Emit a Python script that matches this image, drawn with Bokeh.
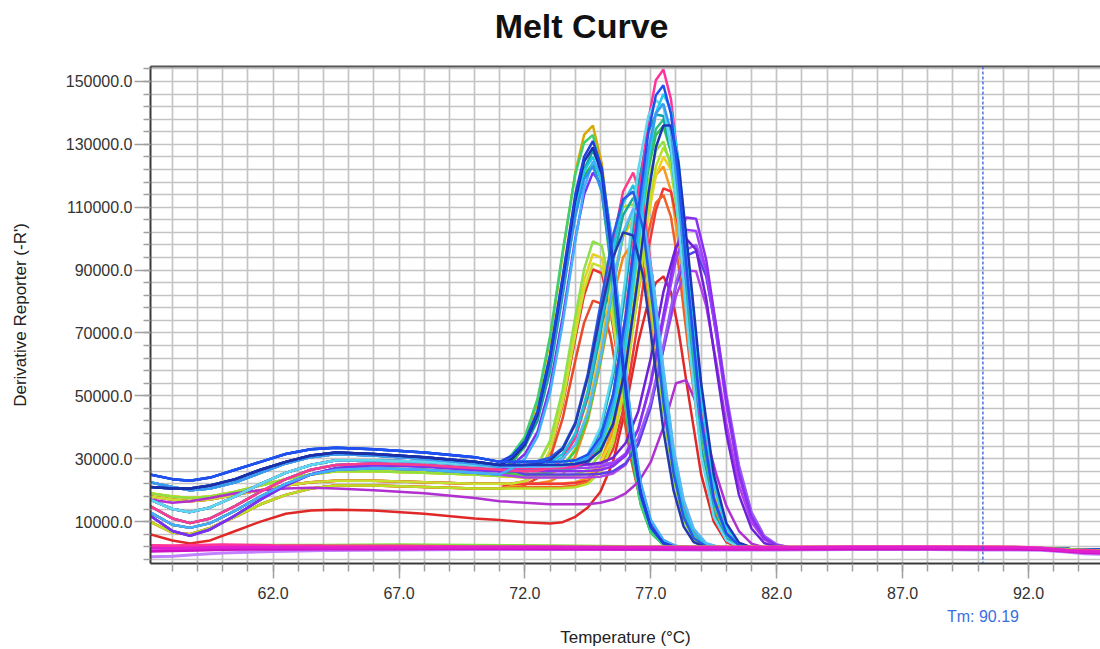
from bokeh.plotting import figure
from bokeh.models import (FixedTicker, Span, Range1d, NumeralTickFormatter,
                          LinearAxis, CustomJSTickFormatter)
from bokeh.embed import file_html
from bokeh.resources import INLINE

# ---------------- data (values in thousands of derivative units) ----------------
T_BASE = [57.1, 58.0, 58.7, 59.5, 60.5, 61.5, 62.5, 63.5, 64.5, 66.0, 68.0, 70.0, 71.0]

BL1 = [25, 23.5, 23, 24, 26.5, 29, 31.5, 33, 33.5, 33, 32, 30.5, 29]
BL2 = [21, 20.5, 20.5, 21.5, 23.5, 26.5, 29, 31, 32, 31.5, 30.5, 29, 28]
BL3 = [15, 11, 9.5, 11, 15, 19.5, 23.5, 26.5, 28, 28.5, 28, 27, 26.5]
BL4 = [12, 7, 5.5, 7.5, 12, 17, 21.5, 25, 27, 28, 27.5, 26.5, 26]
BL5 = [18, 17, 16.5, 17, 18.5, 20, 21.5, 22.5, 23, 23, 22.5, 22, 22]
BL6 = [6, 4, 3, 4, 7, 10, 12.5, 13.5, 13.8, 13.5, 12.5, 11, 10.5]
BL7 = [17, 16, 16.5, 17.5, 19, 20, 20.5, 20.8, 20.5, 20, 19, 17.5, 16.5]
BL8 = [19, 18, 17.5, 18, 19.5, 21.5, 23.5, 25, 26, 26, 25.5, 25, 24.5]
BL9 = [17, 14, 13, 14.5, 18, 22, 25.5, 28, 29.5, 29.5, 29, 28, 27.5]
BL10 = [13, 9, 8, 9.5, 13.5, 18, 22, 25, 26.5, 27, 26.5, 25.5, 25]
BL11 = [22.5, 21, 20, 20.5, 22.5, 25.5, 28.5, 30.5, 31.5, 31, 30, 28.5, 27.5]
BL12 = [10, 6.5, 6, 8, 11.5, 15.5, 18.5, 20.5, 21.5, 21.5, 21, 20.5, 20.5]

# peak group near 74.7 C
T_A = [71.5, 72, 72.5, 73, 73.5, 74, 74.35, 74.7, 75.05, 75.4, 75.8, 76.2, 76.6, 77, 77.5, 78, 79, 85, 92, 94.9]
A1 = [31, 36, 48, 68, 95, 121, 133, 136, 124, 100, 66, 37, 17.5, 7.5, 3, 1.8, 1.5, 1.5, 1.4, 1.0]
A2 = [31, 35.5, 45, 63, 88, 114, 126, 131, 122.5, 100, 67.5, 39, 19, 8.4, 3.2, 1.8, 1.5, 1.5, 1.4, 1.0]
A3 = [30.5, 34, 42, 58, 82, 108, 122, 128, 122, 102, 71, 42, 21, 9.5, 3.8, 2, 1.5, 1.5, 1.4, 1.0]
A4 = [31, 35, 44.5, 61.5, 85, 109.5, 121.5, 126, 118, 96, 65, 37.5, 18.3, 8, 3.1, 1.8, 1.5, 1.5, 1.4, 1.0]
A5 = [29, 34, 45, 63, 87, 110, 120, 124, 115, 92, 60, 33, 15.5, 6.5, 2.6, 1.7, 1.5, 1.5, 1.4, 1.0]
A6 = [30, 34.5, 44, 62, 86.5, 112, 124.5, 129, 120.5, 98.5, 66.5, 38.5, 18.7, 8.3, 3.2, 1.8, 1.5, 1.5, 1.4, 1.0]
A7 = [28, 31.5, 38.5, 53, 75, 100, 114, 121, 117, 100, 71, 43, 22, 10, 4, 2.2, 1.5, 1.5, 1.4, 1.0]
A8 = [31, 35, 44, 60.5, 83.5, 107, 119, 123, 115, 94, 63.5, 36.7, 17.9, 7.9, 3.1, 1.7, 1.5, 1.5, 1.4, 1.0]
A9 = [31.5, 37, 49, 69, 96, 120.5, 130.5, 133, 121, 96, 62, 34, 15.5, 6.5, 2.7, 1.7, 1.5, 1.5, 1.4, 1.0]
A10 = [27, 30, 37, 51, 73, 99, 116, 124.5, 121, 103, 73, 44, 22.5, 10.5, 4.2, 2.2, 1.5, 1.5, 1.4, 1.0]
F1 = [24.7, 25.3, 28.0, 35.8, 52.0, 75.1, 90.2, 99.1, 97.8, 84.8, 61.3, 37.4, 19.5, 9.1, 3.5, 1.9, 1.5, 1.5, 1.4, 1.0]
F2 = [24.6, 25.3, 27.9, 35.2, 50.5, 72.4, 86.7, 95.1, 93.9, 81.4, 58.9, 35.9, 18.8, 8.8, 3.4, 1.9, 1.5, 1.5, 1.4, 1.0]
F3 = [22.1, 22.8, 25.3, 32.7, 47.8, 69.6, 83.8, 92.1, 91, 78.9, 57, 34.8, 18.2, 8.5, 3.3, 1.9, 1.5, 1.5, 1.4, 1.0]
F4 = [22.1, 22.8, 25.2, 32.4, 47.1, 68.2, 82, 90.2, 89, 77.2, 55.8, 34.1, 17.9, 8.4, 3.3, 1.9, 1.5, 1.5, 1.4, 1.0]
F5 = [21.1, 21.7, 23.8, 30, 42.8, 61.2, 73.2, 80.3, 79.3, 68.8, 49.8, 30.4, 16, 7.6, 3.1, 1.8, 1.5, 1.5, 1.4, 1.0]

# peak group near 76.3 C
T_B = [72, 72.5, 73, 73.5, 74, 74.5, 75, 75.5, 75.9, 76.3, 76.7, 77.1, 77.5, 77.9, 78.3, 78.7, 79.2, 79.8, 80.5, 85, 92, 94.9]
B1 = [26, 26.2, 27, 29.7, 36.6, 50.9, 73.2, 99, 115, 121, 110.8, 85.2, 55.3, 30.4, 14.5, 6.4, 2.6, 1.6, 1.5, 1.5, 1.4, 1.0]
B2 = [28, 28.2, 29, 31.5, 38, 51.3, 72.2, 96.4, 111.3, 117, 107.2, 82.4, 53.5, 29.5, 14.1, 6.2, 2.6, 1.6, 1.5, 1.5, 1.4, 1.0]
B3 = [29, 29.3, 30.3, 33.5, 41.5, 57, 79, 101, 112.5, 115, 103, 77, 48, 25.5, 11.5, 4.8, 2.1, 1.6, 1.5, 1.5, 1.4, 1.0]
B4 = [27, 27.2, 27.9, 30.4, 36.6, 49.5, 69.7, 93, 107.5, 113, 103.5, 79.6, 51.7, 28.5, 13.7, 6.1, 2.6, 1.6, 1.5, 1.5, 1.4, 1.0]
B5 = [25, 25.1, 25.6, 27.5, 32.5, 43, 61, 84, 101, 109, 106, 86, 58, 33, 16.5, 7.5, 3, 1.7, 1.5, 1.5, 1.4, 1.0]
B6 = [24, 24.2, 24.9, 27.2, 33.2, 45.5, 64.8, 87, 100.8, 106, 97.1, 74.7, 48.5, 26.8, 12.9, 5.8, 2.5, 1.6, 1.5, 1.5, 1.4, 1.0]
B7 = [28, 28.3, 29.5, 33, 41, 56, 76, 94, 102, 101, 88, 64, 39, 20, 8.5, 3.5, 1.8, 1.5, 1.5, 1.5, 1.4, 1.0]
B8 = [22, 22.2, 22.8, 25, 30.6, 42.2, 60.3, 81.1, 94.1, 99, 90.7, 69.8, 45.4, 25.1, 12.1, 5.5, 2.4, 1.6, 1.5, 1.5, 1.4, 1.0]
B9 = [27.5, 27.6, 28.1, 30, 34.5, 44.5, 62, 85, 102, 109.5, 106, 86, 58.5, 33.5, 17, 7.8, 3.1, 1.7, 1.5, 1.5, 1.4, 1.0]
B10 = [25, 25.3, 26.3, 29.5, 37, 52, 74.5, 98, 110, 111, 98.5, 72.5, 45, 23.5, 10.5, 4.4, 2, 1.6, 1.5, 1.5, 1.4, 1.0]

# peak group near 77.5 C
T_C = [72, 73, 73.5, 74, 74.5, 75, 75.5, 76, 76.5, 76.9, 77.2, 77.5, 77.8, 78.1, 78.5, 79, 79.5, 80, 80.5, 81, 81.5, 82.2, 85, 92, 94.9]
C1 = [27, 27, 27.1, 27.6, 29.4, 35.4, 49.6, 75.9, 111.3, 137.7, 150.4, 153.8, 144.4, 123.5, 86.4, 44, 17.8, 6.3, 2.6, 1.7, 1.5, 1.5, 1.5, 1.4, 1.0]
C2 = [29, 29, 29.1, 29.5, 31.3, 36.9, 50.4, 75.2, 108.7, 133.6, 145.6, 148.8, 139.7, 119.5, 83.7, 42.7, 17.3, 6.2, 2.5, 1.7, 1.5, 1.5, 1.5, 1.4, 1.0]
C3 = [29, 29, 29.1, 29.4, 30.5, 34.5, 45, 66, 98, 125, 140, 146, 141, 125, 91, 50, 22, 8, 3, 1.8, 1.5, 1.5, 1.5, 1.4, 1.0]
C4 = [28, 28, 28.1, 28.5, 30.2, 35.6, 48.5, 72.3, 104.4, 128.3, 139.8, 142.9, 134.1, 114.7, 80.3, 41, 16.6, 6, 2.5, 1.7, 1.5, 1.5, 1.5, 1.4, 1.0]
C5 = [27, 27, 27.2, 28, 31, 39, 56, 84, 117, 134, 139.5, 139, 128, 106, 70, 33, 12.5, 4.5, 2, 1.6, 1.5, 1.5, 1.5, 1.4, 1.0]
C6 = [26.5, 26.5, 26.6, 27, 28.6, 33.7, 46, 68.7, 99.2, 122, 132.9, 135.9, 127.5, 109.1, 76.4, 39, 15.9, 5.8, 2.5, 1.7, 1.5, 1.5, 1.5, 1.4, 1.0]
C7 = [28, 28, 28, 28.3, 29.2, 32.5, 41, 59, 88, 114, 129, 136, 136, 124, 94, 54, 25, 9.5, 3.3, 1.8, 1.5, 1.5, 1.5, 1.4, 1.0]
C8 = [24.5, 24.5, 24.6, 25, 26.5, 31.5, 43.5, 65.5, 95.2, 117.4, 128, 130.9, 122.8, 105.1, 73.6, 37.6, 15.4, 5.6, 2.4, 1.7, 1.5, 1.5, 1.5, 1.4, 1.0]
C9 = [24, 24, 24.1, 24.4, 25.3, 28.6, 37, 54.5, 83, 107, 120, 126, 122, 108, 79, 43.5, 19, 7, 2.7, 1.7, 1.5, 1.5, 1.5, 1.4, 1.0]
C10 = [22, 22, 22.1, 22.5, 23.9, 28.7, 40, 60.9, 89.1, 110.1, 120.2, 122.9, 115.3, 98.7, 69.2, 35.4, 14.5, 5.3, 2.4, 1.6, 1.5, 1.5, 1.5, 1.4, 1.0]
C11 = [22, 22, 22, 22.3, 23, 25.7, 33, 48.5, 74, 96.5, 109, 116, 115, 104, 79, 45.5, 21, 8, 3, 1.8, 1.5, 1.5, 1.5, 1.4, 1.0]
C12 = [21, 21, 21.1, 21.4, 22.8, 27.1, 37.6, 56.8, 82.8, 102.1, 111.4, 113.9, 106.9, 91.5, 64.2, 32.9, 13.5, 5.1, 2.3, 1.6, 1.5, 1.5, 1.5, 1.4, 1.0]
C13 = [9.8, 9.4, 9.8, 11.5, 14.5, 19.5, 29, 46, 67, 80, 86, 88, 83, 71, 50, 25, 10, 3.5, 1.8, 1.5, 1.5, 1.5, 1.5, 1.4, 1.0]
C14 = [27.5, 27.5, 27.7, 28.5, 31.5, 40, 58, 88, 122, 139, 144, 142, 129, 105, 68, 31, 11.5, 4, 1.9, 1.6, 1.5, 1.5, 1.5, 1.4, 1.0]
C15 = [27.5, 27.5, 27.6, 28, 29.6, 34.8, 47.2, 70, 100.9, 123.9, 134.9, 137.9, 129.4, 110.7, 77.5, 39.6, 16.1, 5.8, 2.5, 1.7, 1.5, 1.5, 1.5, 1.4, 1.0]
C16 = [20.5, 20.5, 20.6, 20.9, 22, 25.8, 35, 54, 84, 109.5, 123, 129, 125, 111, 81, 44.5, 19.5, 7.2, 2.8, 1.7, 1.5, 1.5, 1.5, 1.4, 1.0]

# peak group near 78.5 C
T_D = [72, 73, 74, 74.5, 75, 75.5, 76, 76.5, 77, 77.5, 78, 78.4, 78.8, 79.2, 79.6, 80, 80.5, 81, 81.5, 82, 82.6, 85, 92, 94.9]
D1 = [26, 26, 26, 26.1, 26.4, 27.6, 31, 39.3, 54.5, 75.8, 96.7, 106.7, 106.3, 93.3, 71.9, 48.9, 25.5, 11.4, 4.8, 2.4, 1.6, 1.5, 1.4, 1.0]
D2 = [27, 27, 27, 27.1, 27.4, 28.5, 31.7, 39.5, 53.7, 73.7, 93.4, 102.8, 102.4, 89.9, 69.3, 47.1, 24.6, 11, 4.7, 2.4, 1.6, 1.5, 1.4, 1.0]
D3 = [28, 28, 28, 28.2, 28.7, 30.3, 35, 45, 62, 83, 97.5, 100, 96.5, 81, 59, 38, 18.5, 7.8, 3.2, 1.9, 1.5, 1.5, 1.4, 1.0]
D4 = [25, 25, 25, 25, 25.2, 26, 28.5, 34.5, 46.5, 65, 85, 94.5, 96, 88, 70, 49, 27, 12.5, 5.3, 2.6, 1.7, 1.5, 1.4, 1.0]
D5 = [24, 24, 24, 24.1, 24.3, 25.3, 28.1, 34.9, 47.2, 64.7, 81.8, 89.9, 89.6, 78.6, 60.7, 41.3, 21.6, 9.8, 4.3, 2.3, 1.6, 1.5, 1.4, 1.0]
D6 = [16, 15.5, 15.5, 15.5, 16, 17, 19, 22.5, 29, 40, 54, 55, 48, 37, 25, 15, 7, 3, 1.8, 1.5, 1.5, 1.5, 1.4, 1.0]
D7 = [28, 28, 28, 28, 28.2, 28.8, 31, 36.5, 48, 66, 86, 96.5, 98, 90, 72, 50.5, 28, 13, 5.5, 2.7, 1.7, 1.5, 1.4, 1.0]

# flat (no amplification) wells
T_FLAT = [57.1, 58, 59, 60, 62, 64, 67, 70, 73, 76, 79, 82, 85, 88, 90, 91.5, 92.5, 93.5, 94.2, 94.9]
N1 = [1.5, 1.4, 1.6, 1.8, 1.8, 1.7, 1.7, 1.8, 1.8, 1.7, 1.7, 1.7, 1.8, 1.8, 1.7, 1.7, 1.5, 0.8, 0.5, 0.4]
N2 = [2.4, 2.3, 2.5, 2.6, 2.4, 2.3, 2.2, 2.0, 2.0, 1.9, 1.9, 1.9, 2.0, 2.0, 2.0, 1.9, 1.6, 1.0, 0.9, 0.6]
N3 = [0.6, 0.7, 0.9, 1.1, 1.2, 1.3, 1.3, 1.4, 1.3, 1.2, 1.2, 1.2, 1.3, 1.3, 1.2, 1.2, 1.1, 0.6, 0.2, 0.0]
N4 = [-1.2, -1.0, -0.5, 0.0, 0.5, 0.8, 1.0, 1.1, 1.1, 1.1, 1.0, 1.0, 1.1, 1.1, 1.0, 1.0, 0.9, 0.3, -0.2, -0.4]
N5 = [2.0, 1.9, 2.0, 2.1, 2.0, 1.9, 1.9, 1.7, 1.6, 1.6, 1.6, 1.6, 1.7, 1.6, 1.6, 1.5, 1.3, 0.7, 0.6, 0.2]
N6 = [2.2, 2.1, 2.3, 2.4, 2.5, 2.5, 2.6, 2.5, 2.3, 2.1, 2.0, 1.9, 1.9, 1.9, 1.9, 1.8, 1.5, 1.2, 1.0, 0.8]

X_MAJOR = [62, 67, 72, 77, 82, 87, 92]
X_MINOR = list(range(58, 95))
Y_MAJOR = [10000, 30000, 50000, 70000, 90000, 110000, 130000, 150000]
Y_MINOR = list(range(-2000, 154001, 4000))
X_START, X_END = 57.13, 94.86
Y_START, Y_END = -3333, 154762
TM = 90.19
TITLE = "Melt Curve"
TITLE_X = 74.25   # horizontal centre of the title, in axis units

# (baseline, temperatures, peak values, colour) in drawing order
SERIES = [
    (BL6, T_C, C13, "#e02828"),
    (BL5, T_A, F5, "#e84a2a"),
    (BL12, T_A, F4, "#f03030"),
    (BL5, T_B, B8, "#f08a20"),
    (BL12, T_C, C10, "#f59a20"),
    (BL5, T_C, C11, "#f03838"),
    (BL12, T_C, C12, "#f06028"),
    (BL8, T_A, F2, "#e8d020"),
    (BL5, T_A, F3, "#c8e030"),
    (BL8, T_B, B6, "#f0c020"),
    (BL8, T_C, C9, "#f0d020"),
    (BL12, T_C, C16, "#b8e028"),
    (BL11, T_A, A1, "#d9a800"),
    (BL10, T_A, F1, "#8fe04a"),
    (BL8, T_C, C8, "#90e040"),
    (BL10, T_B, B10, "#a0e030"),
    (BL10, T_B, B5, "#40d040"),
    (BL3, T_A, A5, "#22bb44"),
    (BL9, T_A, A9, "#3cd070"),
    (BL10, T_C, C6, "#30c050"),
    (BL11, T_C, C15, "#2fbf7f"),
    (BL9, T_A, A3, "#119f9f"),
    (BL4, T_B, B4, "#18a8a0"),
    (BL3, T_C, C5, "#10a0b0"),
    (BL7, T_D, D6, "#b030d0"),
    (BL10, T_D, D5, "#b040e8"),
    (BL9, T_D, D4, "#5a40e8"),
    (BL2, T_D, D7, "#9b59f5"),
    (BL3, T_D, D2, "#a040ff"),
    (BL4, T_D, D1, "#8a30f0"),
    (BL11, T_D, D3, "#7020d8"),
    (BL4, T_A, A7, "#7b2ff0"),
    (BL3, T_B, B1, "#ff3c8c"),
    (BL9, T_C, C1, "#ff3399"),
    (BL2, T_A, A4, "#1ec8e8"),
    (BL9, T_B, B2, "#20c0e0"),
    (BL9, T_C, C14, "#60d8f0"),
    (BL1, T_C, C3, "#22ccee"),
    (BL10, T_A, A10, "#40b0ff"),
    (BL11, T_A, A8, "#2f8ff0"),
    (BL11, T_B, B9, "#58b8ff"),
    (BL11, T_C, C4, "#3a9af0"),
    (BL1, T_B, B3, "#2a5ae8"),
    (BL2, T_B, B7, "#2438b0"),
    (BL2, T_C, C7, "#1c34b8"),
    (BL2, T_A, A6, "#1a2fa8"),
    (BL1, T_A, A2, "#1f3fe0"),
    (BL1, T_C, C2, "#2050f0"),
]

FLAT = [
    (N6, "#80e040"),
    (N4, "#c080ff"),
    (N5, "#f03060"),
    (N3, "#d010c0"),
    (N2, "#ff3399"),
    (N1, "#e020d0"),
]

FONT = "Liberation Sans"

p = figure(width=1100, height=649, output_backend="svg", toolbar_location=None,
           x_range=Range1d(X_START, X_END), y_range=Range1d(Y_START, Y_END),
           min_border_left=150, min_border_right=0, min_border_top=66, min_border_bottom=85)

p.background_fill_color = "white"
p.border_fill_color = "white"
p.outline_line_color = None

# grid
p.xgrid.ticker = FixedTicker(ticks=X_MINOR)
p.ygrid.ticker = FixedTicker(ticks=Y_MINOR)
p.grid.grid_line_color = "#c4c4c4"
p.grid.grid_line_width = 1.7

# axes
p.xaxis.ticker = FixedTicker(ticks=X_MAJOR, minor_ticks=X_MINOR)
p.yaxis.ticker = FixedTicker(ticks=Y_MAJOR, minor_ticks=Y_MINOR)
p.xaxis.formatter = NumeralTickFormatter(format="0.0")
p.yaxis.formatter = NumeralTickFormatter(format="0.0")
p.axis.axis_line_color = "#3a3a3a"
p.axis.axis_line_width = 2
p.axis.major_tick_line_color = "#a0a0a0"
p.axis.minor_tick_line_color = "#a0a0a0"
p.axis.major_tick_line_width = 1.5
p.axis.minor_tick_line_width = 1.5
p.axis.major_tick_in = 0
p.axis.minor_tick_in = 0
p.xaxis.major_tick_out = 15
p.xaxis.minor_tick_out = 8
p.yaxis.major_tick_out = 16
p.yaxis.minor_tick_out = 7
p.axis.major_label_text_font = FONT
p.axis.major_label_text_font_size = "16px"
p.axis.major_label_text_color = "#333333"
p.xaxis.major_label_standoff = 8
p.yaxis.major_label_standoff = 2
p.yaxis.axis_label = "Derivative Reporter (-R')"
p.yaxis.axis_label_text_font = FONT
p.yaxis.axis_label_text_font_size = "17px"
p.yaxis.axis_label_text_font_style = "normal"
p.yaxis.axis_label_text_color = "#222222"
p.yaxis.axis_label_standoff = 33

# top edge of the plot with the chart title above it
top_axis = LinearAxis(ticker=FixedTicker(ticks=[TITLE_X], minor_ticks=[]),
                      formatter=CustomJSTickFormatter(args=dict(title=TITLE), code="return title;"),
                      axis_line_color="#555555", axis_line_width=2,
                      major_tick_line_color=None, minor_tick_line_color=None,
                      major_tick_out=0, minor_tick_out=0, major_tick_in=0, minor_tick_in=0,
                      major_label_standoff=22, major_label_text_font=FONT,
                      major_label_text_font_size="34px", major_label_text_font_style="bold",
                      major_label_text_color="#111111")
p.add_layout(top_axis, "above")

# second row under the x axis: Tm readout and the axis title
tm_axis = LinearAxis(ticker=FixedTicker(ticks=[TM], minor_ticks=[]),
                     formatter=CustomJSTickFormatter(code="return 'Tm: ' + tick.toFixed(2);"),
                     axis_line_color=None, major_tick_line_color=None, minor_tick_line_color=None,
                     major_tick_out=0, minor_tick_out=0, major_tick_in=0, minor_tick_in=0,
                     major_label_standoff=6, major_label_text_font=FONT,
                     major_label_text_font_size="16px", major_label_text_color="#3a6fe0",
                     axis_label="Temperature (°C)", axis_label_standoff=0,
                     axis_label_text_font=FONT, axis_label_text_font_size="17px",
                     axis_label_text_font_style="normal", axis_label_text_color="#222222")
p.add_layout(tm_axis, "below")

# curves
for base, temps, vals, color in SERIES:
    xs = T_BASE + temps
    ys = [v * 1000 for v in base + vals]
    p.line(xs, ys, line_color=color, line_width=2.5)

for vals, color in FLAT:
    p.line(T_FLAT, [v * 1000 for v in vals], line_color=color, line_width=3)

# Tm marker
p.add_layout(Span(location=TM, dimension="height", line_color="#2f5fd8",
                  line_dash="3 2", line_width=1.3))

open("out.html", "w").write(file_html(p, INLINE))
